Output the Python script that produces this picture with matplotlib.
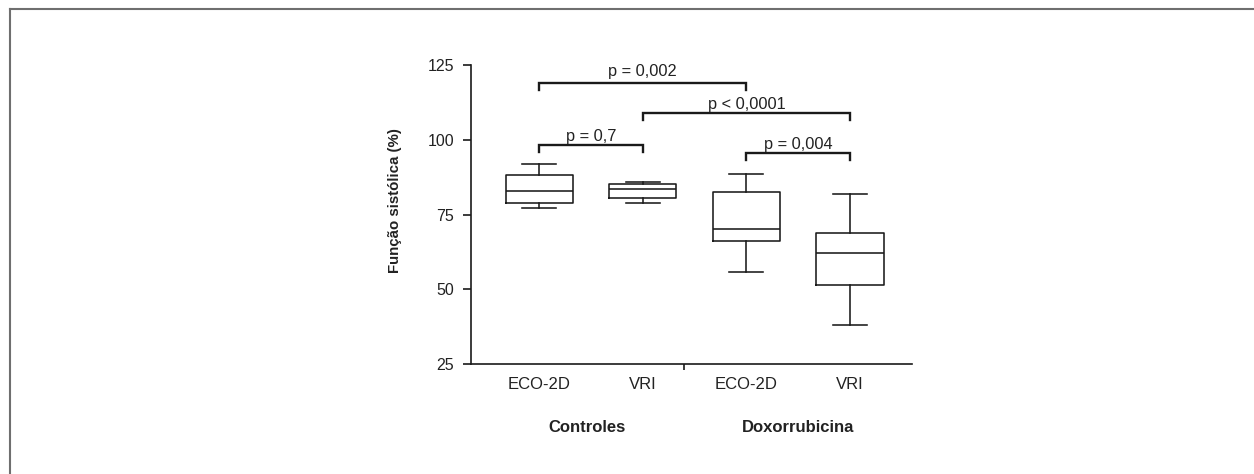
import matplotlib
matplotlib.use("Agg")
import matplotlib.pyplot as plt
from matplotlib.lines import Line2D
import matplotlib.transforms as mtransforms

# ---- data ----
categories = ["ECO-2D", "VRI", "ECO-2D", "VRI"]
groups = ["Controles", "Doxorrubicina"]
whisker_low = [77.2, 78.8, 55.8, 38.0]
q1 = [78.9, 80.7, 66.3, 51.4]
median = [82.8, 83.5, 70.1, 62.1]
q3 = [88.4, 85.4, 82.5, 68.9]
whisker_high = [91.9, 85.9, 88.6, 81.9]
yticks = [25, 50, 75, 100, 125]
ylabel = "Função sistólica (%)"

# comparisons: (box i, box j, label)
comp_pairs = [(0, 2), (1, 3), (0, 1), (2, 3)]
comp_labels = ["p = 0,002", "p < 0,0001", "p = 0,7", "p = 0,004"]

# ---- annotation layout ----
bracket_y = [118.9, 108.9, 98.3, 95.6]
bracket_drop = 2.3
label_gap = [2.4, 1.3, 1.4, 1.45]

plt.rcParams['font.family'] = ['Liberation Sans', 'DejaVu Sans']
TXT = "#222222"
LINE = "#1a1a1a"

fig = plt.figure(figsize=(12.54, 4.74), dpi=100)
ax = fig.add_axes([470.7 / 1254, 1 - 364.3 / 474, 441 / 1254, 299.3 / 474])

positions = [1, 2, 3, 4]
stats = []
for i in range(len(categories)):
    stats.append(dict(whislo=whisker_low[i], q1=q1[i], med=median[i],
                      q3=q3[i], whishi=whisker_high[i], fliers=[]))

lw = 1.15
ax.bxp(stats, positions=positions, widths=0.65, capwidths=0.33,
       showfliers=False, patch_artist=False,
       boxprops=dict(color=LINE, linewidth=lw),
       whiskerprops=dict(color=LINE, linewidth=lw),
       capprops=dict(color=LINE, linewidth=lw),
       medianprops=dict(color=LINE, linewidth=lw))

ax.set_xlim(0.338, 4.596)
ax.set_ylim(25, 125)
ax.set_yticks(yticks)
ax.set_yticklabels([str(v) for v in yticks])
ax.set_xticks(positions)
ax.set_xticklabels(categories)
ax.set_xticks([2.40], minor=True)

for s in ["top", "right"]:
    ax.spines[s].set_visible(False)
for s in ["left", "bottom"]:
    ax.spines[s].set_linewidth(1.2)
    ax.spines[s].set_color(LINE)

ax.tick_params(axis='y', which='major', length=6, width=1.2, pad=6,
               labelsize=11.5, colors=LINE, labelcolor=TXT)
ax.tick_params(axis='x', which='major', length=0, pad=9.5,
               labelsize=12, labelcolor=TXT)
ax.tick_params(axis='x', which='minor', length=4.5, width=1.2,
               direction='out', color=LINE)

# significance brackets
for (i, j), lab, by, gap in zip(comp_pairs, comp_labels, bracket_y, label_gap):
    x1, x2 = positions[i], positions[j]
    ax.plot([x1, x1, x2, x2], [by - bracket_drop, by, by, by - bracket_drop],
            color=LINE, linewidth=1.7, clip_on=False, solid_joinstyle='miter')
    ax.text((x1 + x2) / 2, by + gap, lab, ha='center', va='baseline',
            fontsize=11.8, color=TXT)

# y label
ax.text(-0.1717, 0.547, ylabel, transform=ax.transAxes, rotation=90,
        ha='center', va='center', fontsize=10.8, fontweight='bold', color=TXT)

# group labels
trans = mtransforms.blended_transform_factory(ax.transData, ax.transAxes)
for gx, g in zip([1.46, 3.5], groups):
    ax.text(gx, -0.2095, g, transform=trans, ha='center', va='center',
            fontsize=12, fontweight='bold', color=TXT)

# outer frame (top and left)
fy = 1 - 8.5 / 474
fx = 9.5 / 1254
fig.add_artist(Line2D([fx, 1.0], [fy, fy], transform=fig.transFigure,
                      color="#6f6f6f", linewidth=1.5))
fig.add_artist(Line2D([fx, fx], [0.0, fy], transform=fig.transFigure,
                      color="#6f6f6f", linewidth=1.5))

fig.savefig("out.png", dpi=100, facecolor="white")
